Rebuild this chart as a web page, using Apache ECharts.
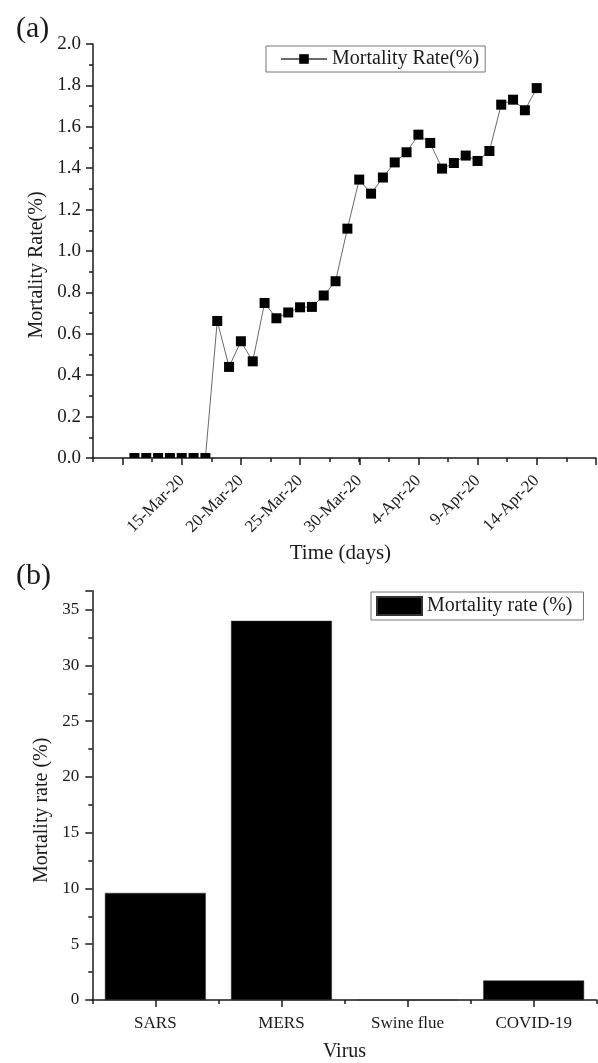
<!DOCTYPE html>
<html>
<head>
<meta charset="utf-8">
<script src="https://cdn.jsdelivr.net/npm/echarts/dist/echarts.min.js"></script>
<style>
  html, body { margin: 0; padding: 0; background: #fff; }
  #chart { width: 598px; height: 1063px; }
</style>
</head>
<body>
<div id="chart"></div>
<script>
// (a) daily mortality rate
const dates = [
  '11-Mar-20', '12-Mar-20', '13-Mar-20', '14-Mar-20', '15-Mar-20', '16-Mar-20', '17-Mar-20',
  '18-Mar-20', '19-Mar-20', '20-Mar-20', '21-Mar-20', '22-Mar-20', '23-Mar-20', '24-Mar-20',
  '25-Mar-20', '26-Mar-20', '27-Mar-20', '28-Mar-20', '29-Mar-20', '30-Mar-20', '31-Mar-20',
  '1-Apr-20', '2-Apr-20', '3-Apr-20', '4-Apr-20', '5-Apr-20', '6-Apr-20', '7-Apr-20',
  '8-Apr-20', '9-Apr-20', '10-Apr-20', '11-Apr-20', '12-Apr-20', '13-Apr-20', '14-Apr-20'
];
const mortalityRate = [
  0, 0, 0, 0, 0, 0, 0,
  0.662, 0.44, 0.564, 0.467, 0.749, 0.675, 0.703,
  0.728, 0.73, 0.785, 0.854, 1.108, 1.345, 1.277,
  1.355, 1.428, 1.477, 1.562, 1.522, 1.398, 1.425,
  1.461, 1.435, 1.483, 1.707, 1.731, 1.68, 1.787
];
const tickDates = ['15-Mar-20', '20-Mar-20', '25-Mar-20', '30-Mar-20', '4-Apr-20', '9-Apr-20', '14-Apr-20'];

// (b) mortality rate by virus
const viruses = ['SARS', 'MERS', 'Swine flue', 'COVID-19'];
const virusMortality = [9.6, 34.0, 0, 1.75];

// day number counted from 1 March (March d -> d, April d -> 31 + d)
const monthOffset = { Mar: 0, Apr: 31 };
function dayOf(label) {
  const parts = label.split('-');
  return Number(parts[0]) + monthOffset[parts[1]];
}

const ratePoints = dates.map((d, i) => [dayOf(d), mortalityRate[i]]);
const tickLabelByDay = {};
tickDates.forEach(d => { tickLabelByDay[dayOf(d)] = d; });

const FONT = '"Liberation Serif", "Times New Roman", serif';
const INK = '#1a1a1a';
const axisLine = { show: true, lineStyle: { color: INK, width: 1.5 } };

const chart = echarts.init(document.getElementById('chart'), null, { renderer: 'canvas' });

chart.setOption({
  animation: false,
  backgroundColor: '#fff',
  title: [
    { text: '(a)', left: 11, top: 9, textStyle: { fontFamily: FONT, fontSize: 30, fontWeight: 'normal', color: INK } },
    { text: '(b)', left: 11, top: 556, textStyle: { fontFamily: FONT, fontSize: 30, fontWeight: 'normal', color: INK } }
  ],
  legend: [
    {
      data: ['Mortality Rate(%)'],
      left: 266, top: 46,
      padding: [3, 6, 3, 14],
      borderColor: '#777', borderWidth: 1,
      itemWidth: 46, itemHeight: 12,
      textStyle: { fontFamily: FONT, fontSize: 20, color: INK },
      selectedMode: false
    },
    {
      data: ['Mortality rate (%)'],
      left: 371, top: 592,
      padding: [4, 11, 4, 5],
      borderColor: '#777', borderWidth: 1,
      itemWidth: 45, itemHeight: 18,
      icon: 'rect',
      textStyle: { fontFamily: FONT, fontSize: 20, color: INK },
      selectedMode: false
    }
  ],
  grid: [
    { left: 93, right: 2, top: 44, bottom: 605 },
    // helper grid carrying the longer ticks every 5 days
    { left: 122.6, right: 2, top: 44, bottom: 605 },
    { left: 92.3, right: 1.3, top: 590.7, bottom: 60.3 }
  ],
  xAxis: [
    {
      type: 'value', gridIndex: 0,
      min: 7.5, max: 50, interval: 2.5,
      axisLine: axisLine,
      axisTick: { show: true, length: 4, lineStyle: { color: INK, width: 1.5 } },
      splitLine: { show: false },
      axisLabel: {
        rotate: 45, margin: 20,
        fontFamily: FONT, fontSize: 17, color: INK,
        formatter: v => tickLabelByDay[v] || ''
      },
      name: 'Time (days)', nameLocation: 'middle', nameGap: 85,
      nameTextStyle: { fontFamily: FONT, fontSize: 21, color: INK, padding: [0, 8, 0, 0] }
    },
    {
      type: 'value', gridIndex: 1,
      min: 10, max: 50, interval: 5,
      axisLine: { show: false },
      axisTick: { show: true, length: 7, lineStyle: { color: INK, width: 1.5 } },
      axisLabel: { show: false },
      splitLine: { show: false }
    },
    {
      type: 'category', gridIndex: 2, data: viruses,
      axisLine: axisLine,
      axisTick: { show: true, length: 4, lineStyle: { color: INK, width: 1.5 } },
      axisLabel: { margin: 15, fontFamily: FONT, fontSize: 17, color: INK },
      name: 'Virus', nameLocation: 'middle', nameGap: 42,
      nameTextStyle: { fontFamily: FONT, fontSize: 20, color: INK }
    },
    {
      type: 'category', gridIndex: 2, data: viruses, position: 'bottom',
      axisLine: { show: false },
      axisTick: { show: true, alignWithLabel: true, length: 7, lineStyle: { color: INK, width: 1.5 } },
      axisLabel: { show: false }
    }
  ],
  yAxis: [
    {
      type: 'value', gridIndex: 0,
      min: 0, max: 2, interval: 0.2,
      axisLine: axisLine,
      axisTick: { show: true, length: 7, lineStyle: { color: INK, width: 1.5 } },
      minorTick: { show: true, splitNumber: 2, length: 4, lineStyle: { color: INK, width: 1.5 } },
      splitLine: { show: false },
      axisLabel: { margin: 12, fontFamily: FONT, fontSize: 19, color: INK, formatter: v => v.toFixed(1) },
      name: 'Mortality Rate(%)', nameLocation: 'middle', nameGap: 42, nameRotate: 90,
      nameTextStyle: { fontFamily: FONT, fontSize: 20, color: INK, padding: [0, 28, 0, 0] }
    },
    {
      type: 'value', gridIndex: 1, min: 0, max: 2, show: false
    },
    {
      type: 'value', gridIndex: 2,
      min: 0, max: 36.7, interval: 5,
      axisLine: axisLine,
      axisTick: { show: true, length: 7, lineStyle: { color: INK, width: 1.5 } },
      minorTick: { show: true, splitNumber: 2, length: 4, lineStyle: { color: INK, width: 1.5 } },
      splitLine: { show: false },
      axisLabel: { margin: 13, fontFamily: FONT, fontSize: 17, color: INK, showMaxLabel: false },
      name: 'Mortality rate (%)', nameLocation: 'middle', nameGap: 40, nameRotate: 90,
      nameTextStyle: { fontFamily: FONT, fontSize: 20, color: INK, padding: [0, 30, 0, 0] }
    }
  ],
  series: [
    {
      name: 'Mortality Rate(%)',
      type: 'line', xAxisIndex: 0, yAxisIndex: 0,
      data: ratePoints,
      symbol: 'rect', symbolSize: 10, showSymbol: false,
      lineStyle: { color: '#6a6a6a', width: 1 },
      itemStyle: { color: '#000' },
      z: 2
    },
    {
      // square markers, clipped to the plotting area
      type: 'custom', xAxisIndex: 0, yAxisIndex: 0,
      data: ratePoints, clip: true, z: 3,
      renderItem: (params, api) => {
        const p = api.coord([api.value(0), api.value(1)]);
        const s = 10;
        return { type: 'rect', shape: { x: p[0] - s / 2, y: p[1] - s / 2, width: s, height: s }, style: { fill: '#000' } };
      }
    },
    {
      name: 'Mortality rate (%)',
      type: 'bar', xAxisIndex: 2, yAxisIndex: 2,
      data: virusMortality,
      barWidth: '80%',
      itemStyle: { color: '#000', borderColor: '#333', borderWidth: 0.5 }
    }
  ]
});
</script>
</body>
</html>
